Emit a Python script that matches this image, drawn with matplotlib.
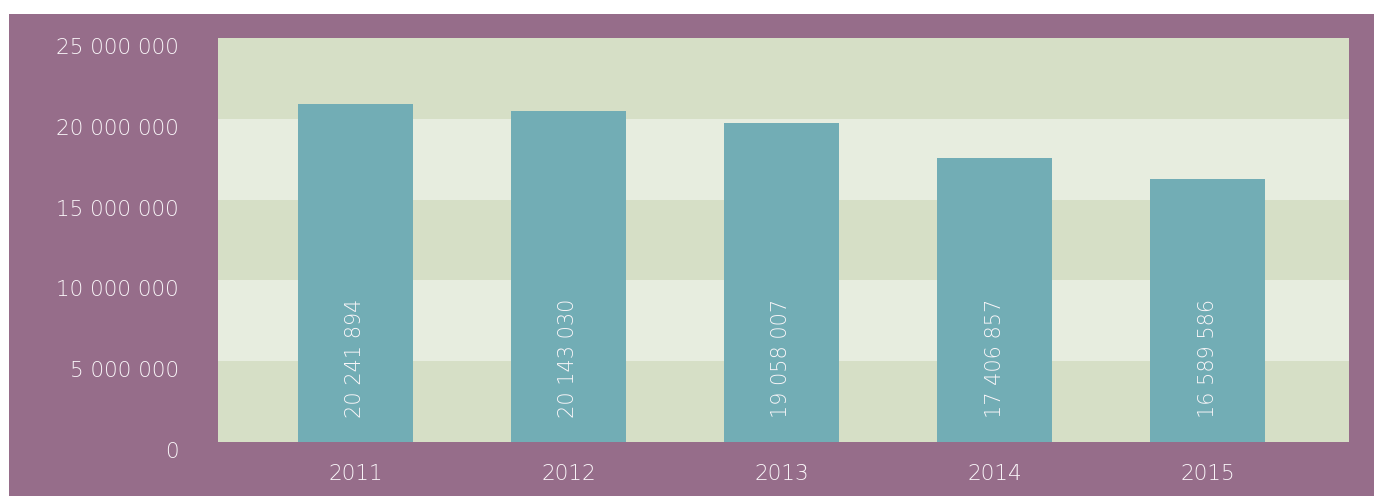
import matplotlib.pyplot as plt
import matplotlib.transforms as mtransforms
from matplotlib.patches import Rectangle

years = ["2011", "2012", "2013", "2014", "2015"]
# bar heights as drawn in the picture
heights = [20_920_000, 20_480_000, 19_740_000, 17_570_000, 16_270_000]
# values printed on the bars
bar_labels = ["20 241 894", "20 143 030", "19 058 007", "17 406 857", "16 589 586"]
yticks = [0, 5_000_000, 10_000_000, 15_000_000, 20_000_000, 25_000_000]
ytick_labels = ["0", "5 000 000", "10 000 000", "15 000 000", "20 000 000", "25 000 000"]

PURPLE = "#966D8A"
BAND_DARK = "#D6DFC6"
BAND_LIGHT = "#E7EDDF"
BAR = "#72ADB5"
TXT = "#FAF6F9"

plt.rcParams['font.family'] = ['DejaVu Sans']

fig = plt.figure(figsize=(13.74, 4.96), dpi=100, facecolor="white")
# purple panel, white strip on top and left
fig.patches.append(Rectangle((9 / 1374, 0), 1365 / 1374, 482 / 496,
                             transform=fig.transFigure, facecolor=PURPLE,
                             edgecolor="none", zorder=-10))

ax = fig.add_axes([218 / 1374, 54 / 496, 1131 / 1374, 404 / 496])

# alternating bands
for i in range(len(yticks) - 1):
    ax.axhspan(yticks[i], yticks[i + 1], color=BAND_DARK if i % 2 == 0 else BAND_LIGHT,
               lw=0, zorder=0)

x = list(range(len(years)))
ax.bar(x, heights, width=0.54, color=BAR, linewidth=0, zorder=2)

for xi, lab in zip(x, bar_labels):
    ax.annotate(lab, (xi, 0), xytext=(0, 17), textcoords="offset points",
                rotation=90, ha="center", va="bottom", color=TXT,
                fontsize=15, fontweight="light", zorder=3)

ax.set_xlim(-0.645, 4.664)
ax.set_ylim(0, 25_000_000)
ax.set_xticks(x, years)
ax.set_yticks(yticks, ytick_labels)
ax.tick_params(axis="both", length=0, labelcolor=TXT, labelsize=15.5)
ax.tick_params(axis="x", pad=16)
ax.tick_params(axis="y", pad=28)
for lab in ax.get_xticklabels() + ax.get_yticklabels():
    lab.set_fontweight("light")

# y labels sit a bit below their band lines
shift = mtransforms.ScaledTranslation(0, -8 / 100, fig.dpi_scale_trans)
for lab in ax.get_yticklabels():
    lab.set_transform(lab.get_transform() + shift)

for s in ax.spines.values():
    s.set_visible(False)
ax.set_facecolor("none")

fig.savefig("out.png", dpi=100, facecolor="white")
